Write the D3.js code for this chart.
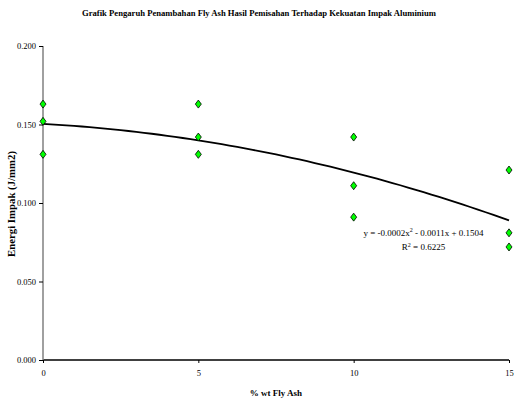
<!DOCTYPE html>
<html><head><meta charset="utf-8">
<script src="https://cdn.jsdelivr.net/npm/d3@7"></script>
<style>body{margin:0;background:#fff}svg{display:block}</style>
</head><body><svg id="c" width="517" height="403"></svg>
<script>
const titleText = "Grafik Pengaruh Penambahan Fly Ash Hasil Pemisahan Terhadap Kekuatan Impak Aluminium";
const xLabel = "% wt Fly Ash";
const yLabel = "Energi Impak (J/mm2)";
const xValues = [0,0,0, 5,5,5, 10,10,10, 15,15,15];
const yValues = [0.163,0.152,0.131, 0.163,0.142,0.131, 0.142,0.111,0.091, 0.121,0.081,0.072];
const xTicks = [0,5,10,15];
const yTicks = [0.000,0.050,0.100,0.150,0.200];
const trendCoef = [-0.0002,-0.0011,0.1504]; // a, b, c
const eqText = ["y = -0.0002x", "2", " - 0.0011x + 0.1504"];
const r2Text = ["R", "2", " = 0.6225"];

const FF = "'Liberation Serif','Times New Roman',serif";
const svg = d3.select("#c");
const x = d3.scaleLinear().domain([0,15]).range([43,509]);
const y = d3.scaleLinear().domain([0,0.2]).range([360,46]);

svg.append("text").attr("x",259).attr("y",16).attr("text-anchor","middle").style("font-family",FF)
  .style("font-size","9px").attr("font-weight","bold").attr("textLength",354).attr("lengthAdjust","spacingAndGlyphs").text(titleText);

// axes
const xa = svg.append("g").attr("transform","translate(0,360)")
  .call(d3.axisBottom(x).tickValues(xTicks).tickFormat(d3.format("d")).tickSize(3).tickPadding(7));
xa.select(".domain").attr("stroke","#000").attr("stroke-width",1.5).attr("d","M43,0H509");
xa.selectAll("text").style("font-size","8.5px").style("font-family",FF).attr("fill","#000");
const ya = svg.append("g").attr("transform","translate(43,0)")
  .call(d3.axisLeft(y).tickValues(yTicks).tickFormat(d3.format(".3f")).tickSize(4).tickPadding(3));
ya.select(".domain").attr("stroke","#808080").attr("stroke-width",1.5).attr("d","M0,46V360");
ya.selectAll("text").style("font-size","8.5px").style("font-family",FF).attr("fill","#000");

// trendline
const tr = d3.range(0,15.01,0.25).map(v=>[v, trendCoef[0]*v*v+trendCoef[1]*v+trendCoef[2]]);
svg.append("path").datum(tr).attr("fill","none").attr("stroke","#000").attr("stroke-width",1.8)
  .attr("d",d3.line().x(d=>x(d[0])).y(d=>y(d[1])));

// markers
svg.selectAll("path.pt").data(xValues.map((v,i)=>[v,yValues[i]])).join("path").attr("class","pt")
  .attr("transform",d=>`translate(${x(d[0])},${y(d[1])})`)
  .attr("d","M0,-4L3,0L0,4L-3,0Z").attr("fill","#00ff00").attr("stroke","#000").attr("stroke-width",0.8);

// equation
function sup(parts, xx, yy){
  const e = svg.append("text").attr("x",xx).attr("y",yy).attr("text-anchor","middle").style("font-family",FF).style("font-size","9px").attr("fill","#000");
  e.append("tspan").text(parts[0]);
  e.append("tspan").attr("dy",-3.5).style("font-size","6px").text(parts[1]);
  e.append("tspan").attr("dy",3.5).text(parts[2]);
}
sup(eqText, 423.5, 235.5);
sup(r2Text, 423.5, 250);

svg.append("text").attr("x",276).attr("y",396).attr("text-anchor","middle").style("font-family",FF).style("font-size","9px").attr("font-weight","bold").text(xLabel);
svg.append("text").attr("transform","translate(15,204) rotate(-90)").attr("text-anchor","middle").style("font-family",FF).style("font-size","10px").attr("font-weight","bold")
  .attr("textLength",106).attr("lengthAdjust","spacingAndGlyphs").text(yLabel);
</script></body></html>
